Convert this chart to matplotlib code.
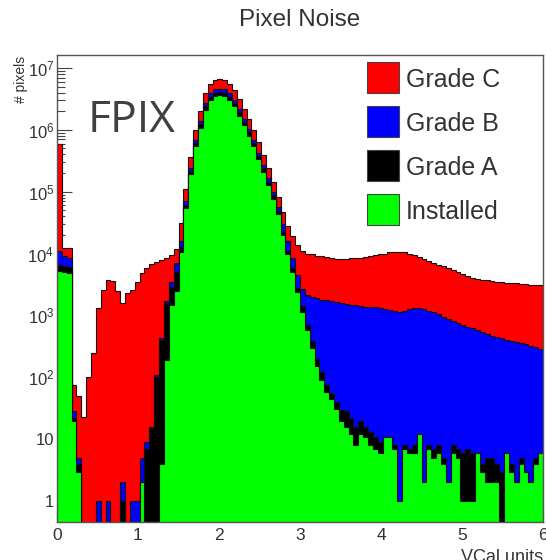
import numpy as np
import matplotlib
matplotlib.use("Agg")
import matplotlib.pyplot as plt
from matplotlib.patches import Rectangle
from matplotlib.ticker import FixedLocator, MultipleLocator, NullFormatter

plt.rcParams['font.family'] = ['Liberation Sans', 'DejaVu Sans']
plt.rcParams['mathtext.fontset'] = 'custom'
plt.rcParams['mathtext.rm'] = 'Liberation Sans'
plt.rcParams['mathtext.it'] = 'Liberation Sans:italic'

# 100 bins of 0.06 VCal between 0 and 6
bin_edges = np.linspace(0.0, 6.0, 101)

grade_c = [
    6.0e5, 1.25e4, 1.25e4, 75, 50, 23, 100, 250, 1300, 2600,
    3700, 3600, 2500, 1600, 2300, 2600, 3500, 4800, 5800, 6700,
    7400, 7800, 8400, 9400, 1.2e4, 3.1e4, 1.1e5, 3.6e5, 1.0e6, 2.0e6,
    3.9e6, 5.6e6, 6.5e6, 6.7e6, 6.5e6, 5.6e6, 4.4e6, 3.2e6, 2.2e6, 1.5e6,
    1.0e6, 6.3e5, 3.9e5, 2.4e5, 1.45e5, 8.2e4, 4.7e4, 2.8e4, 1.9e4, 1.4e4,
    1.1e4, 1.0e4, 9800, 9300, 9000, 8700, 8400, 8300, 8200, 8300,
    8400, 8500, 8600, 8800, 9100, 9400, 9700, 1.0e4, 1.05e4, 1.07e4,
    1.07e4, 1.05e4, 1.0e4, 9400, 8900, 8200, 7500, 7000, 6600, 6200,
    5800, 5400, 5100, 4700, 4400, 4100, 3900, 3800, 3700, 3600,
    3500, 3450, 3400, 3350, 3300, 3250, 3200, 3150, 3100, 3100,
]

grade_b = [
    1.1e4, 9000, 8500, 28, 5, 0, 0, 0, 1, 0,
    1, 0, 0, 2, 0, 1, 1, 5, 9, 16,
    110, 430, 1700, 3500, 7000, 1.6e4, 7.0e4, 2.4e5, 6.9e5, 1.38e6,
    2.7e6, 3.9e6, 4.5e6, 4.6e6, 4.5e6, 3.9e6, 3.0e6, 2.2e6, 1.5e6, 1.03e6,
    6.9e5, 4.3e5, 2.7e5, 1.65e5, 1.0e5, 5.6e4, 3.0e4, 1.6e4, 8500, 4500,
    2700, 2150, 2000, 1900, 1800, 1750, 1680, 1620, 1570, 1530,
    1500, 1460, 1420, 1390, 1370, 1350, 1330, 1280, 1220, 1160,
    1140, 1200, 1260, 1300, 1300, 1270, 1200, 1150, 1050, 950,
    880, 800, 750, 700, 650, 620, 580, 530, 500, 470,
    450, 430, 400, 385, 370, 355, 340, 320, 305, 290,
]

grade_a = [
    6500, 6200, 6000, 22, 4, 0, 0, 0, 0, 0,
    0, 0, 0, 1, 0, 0, 0, 2, 7, 15,
    100, 400, 1560, 2900, 5000, 1.27e4, 6.2e4, 2.15e5, 6.1e5, 1.22e6,
    2.4e6, 3.4e6, 4.0e6, 4.1e6, 4.0e6, 3.4e6, 2.7e6, 1.95e6, 1.34e6, 9.1e5,
    6.1e5, 3.8e5, 2.4e5, 1.45e5, 8.8e4, 4.9e4, 2.2e4, 1.1e4, 5800, 2800,
    1400, 700, 380, 200, 120, 75, 55, 40, 30, 28,
    22, 16, 20, 16, 13, 11, 9, 11, 11, 8,
    1, 8, 7, 8, 12, 2, 8, 7, 8, 5,
    2, 8, 7, 6, 7, 6, 6, 4, 5, 5,
    4, 3, 6, 4, 2, 5, 3, 2, 5, 6,
]

installed = [
    5200, 5000, 4800, 20, 3, 0, 0, 0, 0, 0,
    0, 0, 0, 0, 0, 0, 0, 2, 0, 0,
    0, 4, 190, 1500, 2500, 1.05e4, 5.5e4, 1.9e5, 5.4e5, 1.08e6,
    2.1e6, 3.0e6, 3.5e6, 3.6e6, 3.5e6, 3.0e6, 2.4e6, 1.7e6, 1.18e6, 8.0e5,
    5.4e5, 3.4e5, 2.1e5, 1.28e5, 7.7e4, 4.3e4, 2.0e4, 9700, 5100, 2400,
    1140, 580, 300, 150, 90, 58, 45, 31, 20, 16,
    12, 8, 12, 11, 8, 7, 6, 11, 11, 7,
    1, 7, 6, 6, 12, 2, 7, 5, 6, 4,
    2, 6, 5, 1, 1, 1, 6, 3, 2, 2,
    2, 0, 6, 3, 2, 4, 3, 2, 4, 6,
]

series = [
    ("Grade C", grade_c, "#ff0000"),
    ("Grade B", grade_b, "#0000ff"),
    ("Grade A", grade_a, "#000000"),
    ("Installed", installed, "#00ff00"),
]

y_ticks = [1, 10, 1e2, 1e3, 1e4, 1e5, 1e6, 1e7]
y_tick_labels = ["1", "10", r"$10^{2}$", r"$10^{3}$", r"$10^{4}$",
                 r"$10^{5}$", r"$10^{6}$", r"$10^{7}$"]
x_ticks = [0, 1, 2, 3, 4, 5, 6]

W, H = 546, 560
fig = plt.figure(figsize=(W / 100, H / 100), dpi=100)


def fx(px):
    return px / W


def fy(py):
    return 1 - py / H


ax = fig.add_axes([fx(57), fy(522), fx(543) - fx(57), fy(55) - fy(522)])
ax.set_yscale("log")
ax.set_xlim(0, 6)
ax.set_ylim(0.458, 1.62e7)

floor = 1e-3
for name, vals, col in series:
    v = np.asarray(vals, dtype=float)
    v = np.where(v > 0, v, floor)
    ax.stairs(v, bin_edges, baseline=floor, fill=True, facecolor=col,
              edgecolor="#111111", linewidth=0.8, zorder=2)

for sp in ax.spines.values():
    sp.set_color("#555555")
    sp.set_linewidth(1.0)
    sp.set_zorder(5)

ax.xaxis.set_major_locator(FixedLocator(x_ticks))
ax.xaxis.set_minor_locator(MultipleLocator(0.2))
ax.set_xticklabels([str(t) for t in x_ticks])
ax.yaxis.set_major_locator(FixedLocator(y_ticks))
minor_y = [m * 10.0 ** d for d in range(-1, 8) for m in range(2, 10)]
ax.yaxis.set_minor_locator(FixedLocator(minor_y))
ax.yaxis.set_minor_formatter(NullFormatter())
ax.set_yticklabels(y_tick_labels)

ax.tick_params(axis="x", which="major", direction="in", length=9.5, width=0.8,
               colors="#444444", labelsize=12.5, pad=4, top=False)
ax.tick_params(axis="x", which="minor", direction="in", length=5, width=0.8,
               colors="#444444", top=False)
ax.tick_params(axis="y", which="major", direction="in", length=11, width=0.8,
               colors="#444444", labelsize=12, pad=2, right=False)
ax.tick_params(axis="y", which="minor", direction="in", length=5.5, width=0.8,
               colors="#444444", right=False)
for lab in ax.get_xticklabels() + ax.get_yticklabels():
    lab.set_color("#333333")

# title and axis titles
fig.text(fx(300), fy(26), "Pixel Noise", ha="center", va="baseline",
         fontsize=17.5, color="#333333")
fig.text(fx(21), fy(56), "# pixels", rotation=90, ha="center", va="top",
         fontsize=10, color="#333333")
fig.text(fx(543), fy(562), "VCal units", ha="right", va="baseline",
         fontsize=13, color="#333333")

# detector label
fig.text(fx(88), fy(131.7), "FPIX", ha="left", va="baseline",
         fontsize=32, color="#404040", family=["Open Sans", "DejaVu Sans"])

# legend
row_tops = [62, 106, 150, 194]
for (name, vals, col), top in zip(series, row_tops):
    fig.add_artist(Rectangle((fx(367), fy(top + 31)), 32 / W, 31 / H,
                             transform=fig.transFigure, facecolor=col,
                             edgecolor="#444444", linewidth=0.8))
    fig.text(fx(406), fy(top + 24.7), name, ha="left", va="baseline",
             fontsize=18, color="#333333")

fig.savefig("out.png", dpi=100)
